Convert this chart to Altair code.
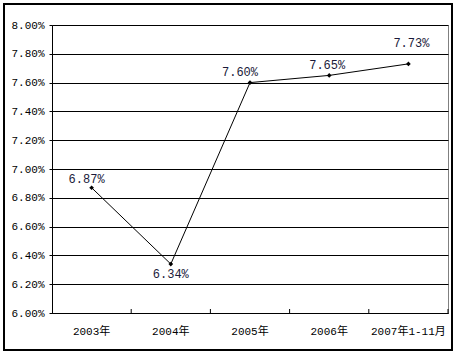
import altair as alt
import pandas as pd

categories = ["2003年", "2004年", "2005年", "2006年", "2007年1-11月"]
values = [0.0687, 0.0634, 0.0760, 0.0765, 0.0773]
y_ticks = [0.060, 0.062, 0.064, 0.066, 0.068, 0.070, 0.072, 0.074, 0.076, 0.078, 0.080]

df = pd.DataFrame({"cat": categories, "v": values})

FONT = "Liberation Mono, Noto Sans CJK SC"

x_axis = alt.Axis(labelAngle=0, ticks=False, domain=True, domainColor="black",
                  labelFont=FONT, labelFontSize=11, labelColor="black",
                  labelPadding=12, grid=False, labelOverlap=False)
x_scale = alt.Scale(paddingInner=0, paddingOuter=0)
xenc = alt.X("cat:N", sort=categories, title=None, scale=x_scale, axis=x_axis)
yenc = alt.Y("v:Q", title=None,
             scale=alt.Scale(domain=[0.06, 0.08], nice=False, zero=False),
             axis=alt.Axis(values=y_ticks, format=".2%", grid=True, gridColor="black",
                           gridOpacity=1, gridWidth=1, domainColor="black", tickColor="black",
                           tickSize=3, labelPadding=5, labelFont=FONT, labelFontSize=11,
                           labelColor="black", labelOverlap=False))

base = alt.Chart(df).encode(x=xenc, y=yenc)

line = base.mark_line(color="black", strokeWidth=1)
pts = base.mark_point(shape="diamond", filled=True, color="black", size=22, opacity=1)

ticks = alt.Chart(df).mark_rule(color="black", strokeWidth=1).encode(
    x=alt.X("cat:N", sort=categories, bandPosition=1, title=None, scale=x_scale, axis=x_axis),
    y=alt.value(288), y2=alt.value(284))

offsets = {
    "2003年": (-5, -9),
    "2004年": (0, 10),
    "2005年": (-10, -11),
    "2006年": (-2, -10),
    "2007年1-11月": (3, -21),
}
labels = []
for c, (dx, dy) in offsets.items():
    labels.append(
        base.transform_filter(alt.datum.cat == c).mark_text(
            dx=dx, dy=dy, font=FONT, fontSize=12, color="#1a1a3a"
        ).encode(text=alt.Text("v:Q", format=".2%"))
    )

border = alt.Chart(df).mark_rect(fill=None, stroke="black", strokeWidth=1.5).encode(
    x=alt.value(-48), x2=alt.value(400), y=alt.value(-21), y2=alt.value(325))

chart = alt.layer(line, ticks, pts, *labels, border).properties(
    width=396, height=288,
    autosize=alt.AutoSizeParams(type="none"),
    padding={"left": 52, "top": 25, "right": 14, "bottom": 44},
    background="white",
).configure_view(stroke="#808080", strokeWidth=1)

chart.save("out.html", embed_options={"renderer": "svg", "actions": False})
